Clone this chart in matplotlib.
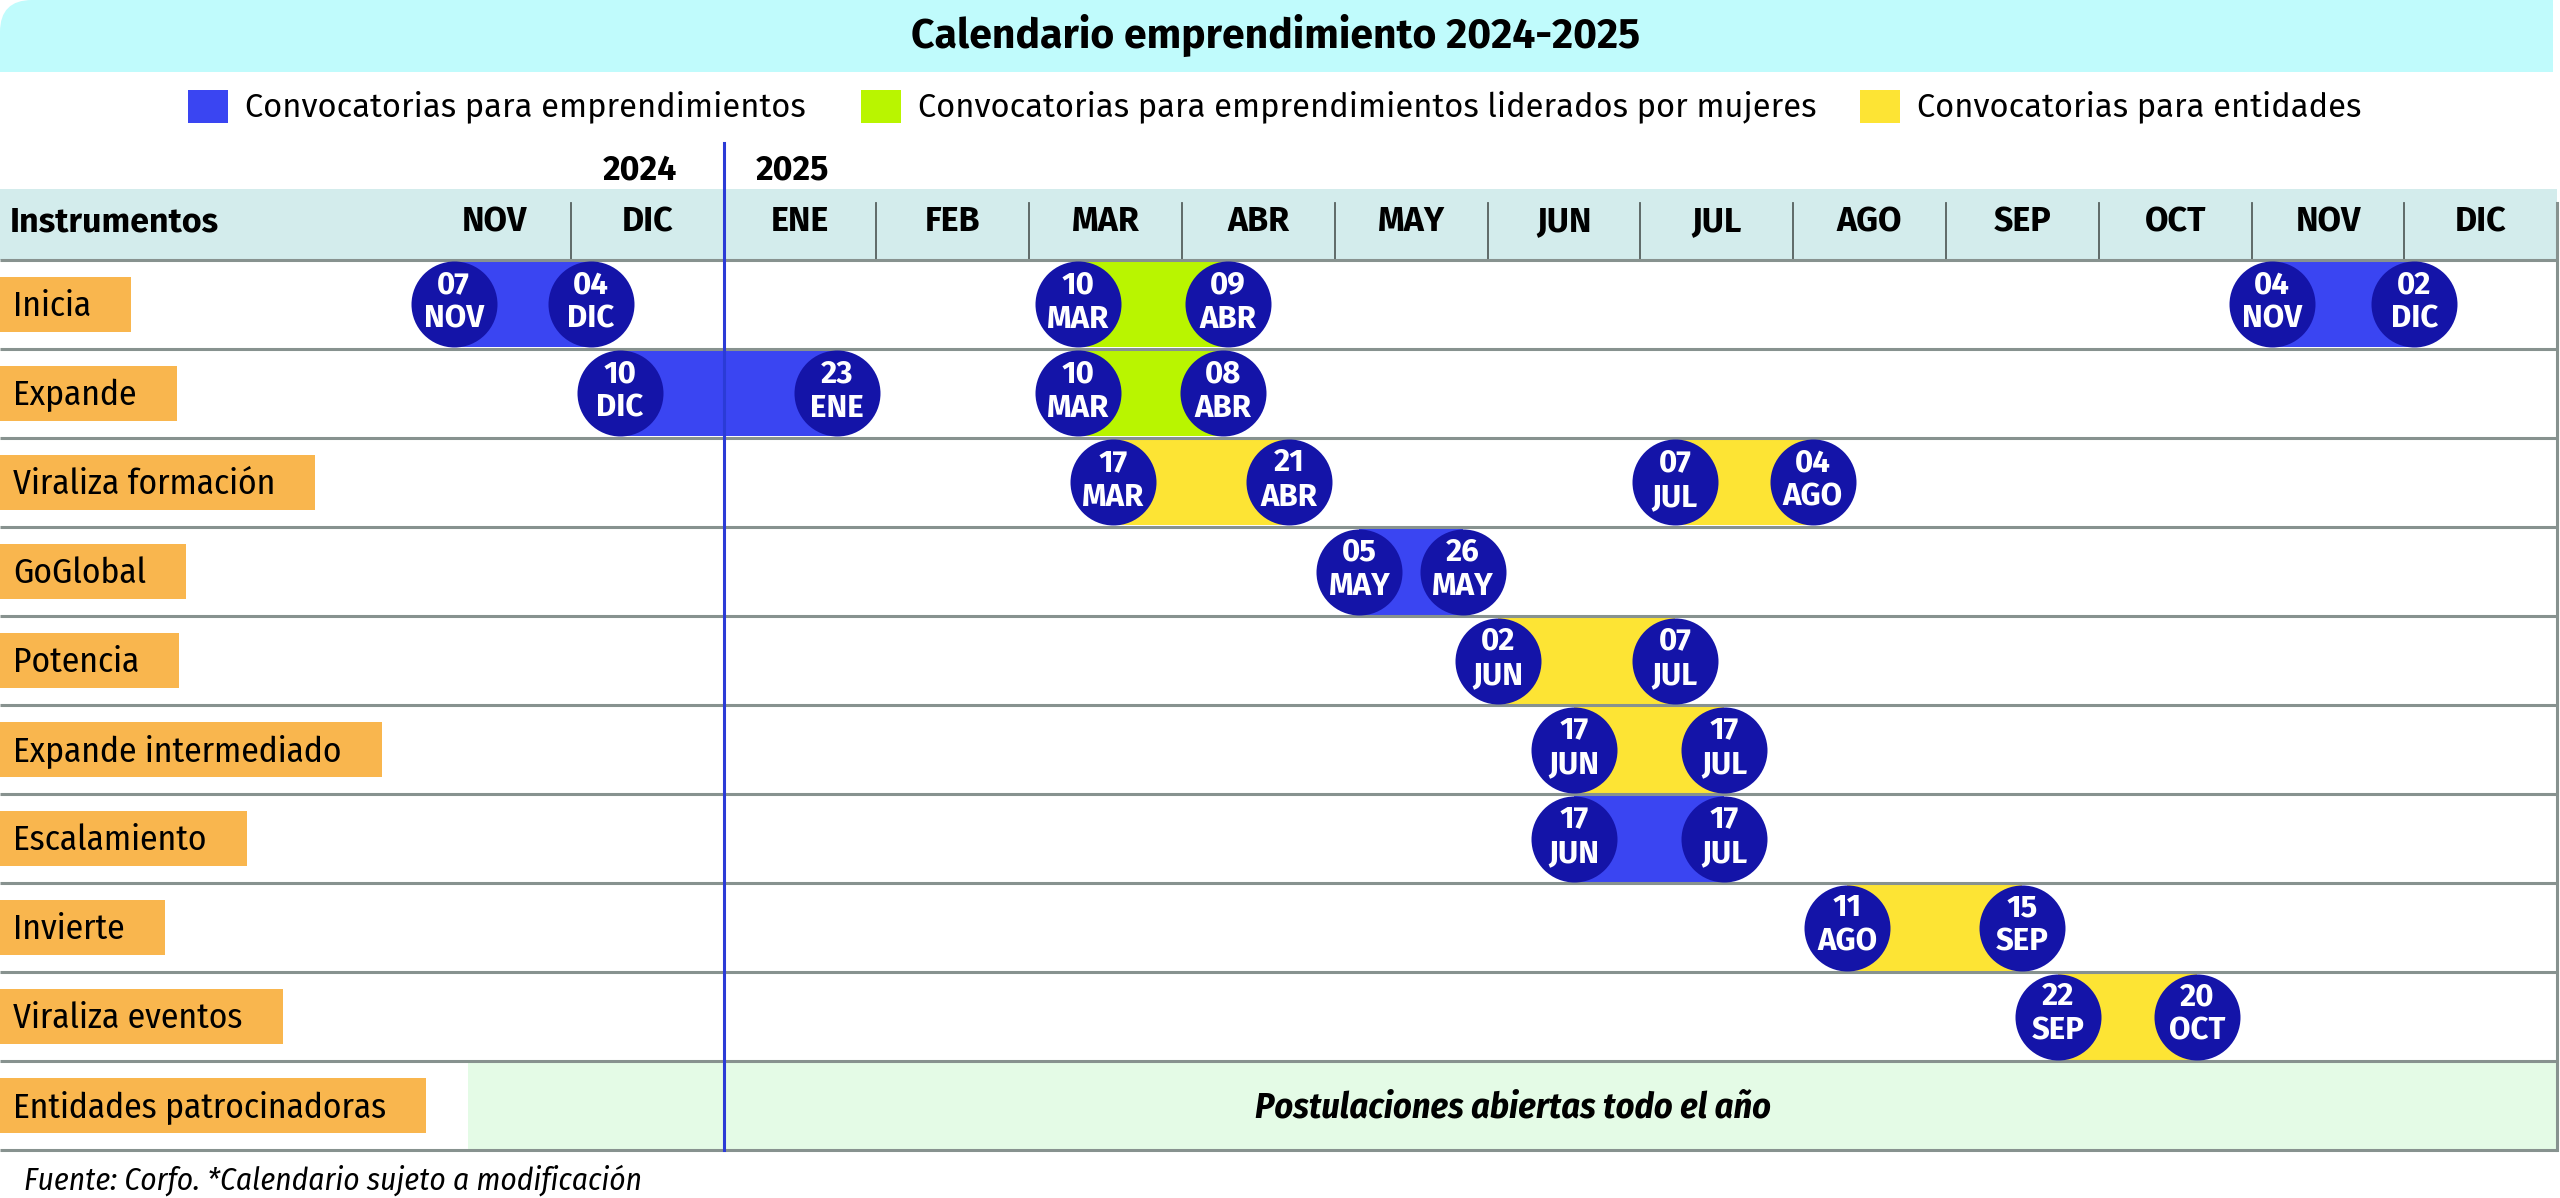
import calendar
import matplotlib
matplotlib.use("Agg")
import matplotlib.pyplot as plt
import matplotlib.transforms as mtransforms
from matplotlib.patches import Rectangle, FancyBboxPatch
import pandas as pd

# Columnas del calendario
MESES = ["NOV", "DIC", "ENE", "FEB", "MAR", "ABR", "MAY", "JUN", "JUL", "AGO", "SEP", "OCT", "NOV", "DIC"]
ANIOS = ["2024", "2025"]

INSTRUMENTOS = ["Inicia", "Expande", "Viraliza formación", "GoGlobal", "Potencia",
                "Expande intermediado", "Escalamiento", "Invierte", "Viraliza eventos",
                "Entidades patrocinadoras"]

# Convocatorias (fila = índice en INSTRUMENTOS)
CONV_FILA = [0, 0, 0, 1, 1, 2, 2, 3, 4, 5, 6, 7, 8]
CONV_INICIO = ["2024-11-07", "2025-03-10", "2025-11-04", "2024-12-10", "2025-03-10",
               "2025-03-17", "2025-07-07", "2025-05-05", "2025-06-02", "2025-06-17",
               "2025-06-17", "2025-08-11", "2025-09-22"]
CONV_FIN = ["2024-12-04", "2025-04-09", "2025-12-02", "2025-01-23", "2025-04-08",
            "2025-04-21", "2025-08-04", "2025-05-26", "2025-07-07", "2025-07-17",
            "2025-07-17", "2025-09-15", "2025-10-20"]
CONV_TIPO = ["emp", "muj", "emp", "emp", "muj", "ent", "ent", "emp", "ent", "ent",
             "emp", "ent", "ent"]

TIPOS = ["emp", "muj", "ent"]
TIPO_LABEL = ["Convocatorias para emprendimientos",
              "Convocatorias para emprendimientos liderados por mujeres",
              "Convocatorias para entidades"]
TIPO_COLOR = {"emp": "#3a45f2", "muj": "#b9f500", "ent": "#fde434"}

ABIERTA_FILA = 9
ABIERTA_TEXTO = "Postulaciones abiertas todo el año"

# Colores / estilo
CYAN = "#c0fbfc"
HEAD = "#d3ecec"
ORANGE = "#f9b64e"
NAVY = "#1414a8"
GRID = "#87928f"
LINEA_ANIO = "#2b3bd6"
VERDE_BANDA = "#e4fbe6"

W, H = 2560, 1198
X0, MW = 418, 152.8     # px: inicio de NOV 2024 y ancho de un mes
Y0, RH = 260, 89        # px: inicio de la primera fila y alto de fila

SANS = ["Fira Sans", "DejaVu Sans"]
COND = ["Fira Sans Condensed", "DejaVu Sans"]

MES_ABR = ["", "ENE", "FEB", "MAR", "ABR", "MAY", "JUN", "JUL", "AGO", "SEP", "OCT", "NOV", "DIC"]


def pos_mes(fecha):
    # posicion en meses desde el 1 de noviembre 2024
    d = pd.Timestamp(fecha)
    dias = calendar.monthrange(d.year, d.month)[1]
    return (d.year - 2024) * 12 + d.month - 11 + d.day / dias


fig = plt.figure(figsize=(W / 100, H / 100), dpi=100)
ax = fig.add_axes([0, 0, 1, 1])
ax.set_xlim(-X0 / MW, (W - X0) / MW)
ax.set_ylim((H - Y0) / RH, -Y0 / RH)
ax.axis("off")
renderer = fig.canvas.get_renderer()

# transformacion en pixeles desde arriba a la izquierda (para el marco)
PX = mtransforms.Affine2D().scale(1 / W, -1 / H).translate(0, 1) + fig.transFigure
# x en meses, y en pixeles
XM = mtransforms.blended_transform_factory(ax.transData, PX)
# x en pixeles, y en filas
YR = mtransforms.blended_transform_factory(PX, ax.transData)

# Título
fig.patches.append(FancyBboxPatch((0, 0), 2553, 72, boxstyle="round,pad=0,rounding_size=32",
                                  transform=PX, fc=CYAN, ec="none"))
fig.patches.append(Rectangle((0, 40), 2553, 32, transform=PX, fc=CYAN, ec="none"))
fig.patches.append(Rectangle((2500, 0), 53, 72, transform=PX, fc=CYAN, ec="none"))
fig.text(1276, 35, "Calendario emprendimiento 2024-2025", transform=PX, ha="center", va="center",
         fontsize=29.5, fontweight="bold", family=SANS)

# Leyenda
leg_x = [188, 861, 1860]
for x, tipo, lab in zip(leg_x, TIPOS, TIPO_LABEL):
    fig.patches.append(Rectangle((x, 90), 40, 33, transform=PX, fc=TIPO_COLOR[tipo], ec="none"))
    fig.text(x + 57, 107, lab, transform=PX, ha="left", va="center", fontsize=23.5, family=SANS)

# Cabecera
n_filas = len(INSTRUMENTOS)
ax.add_patch(Rectangle((0, 189), 2557, 71, transform=PX, fc=HEAD, ec="none"))
ax.text(10, 222, "Instrumentos", transform=PX, ha="left", va="center", fontsize=24.5,
        fontweight="bold", family=SANS)
for i, mes in enumerate(MESES):
    ax.text(i + 0.5, 222, mes, transform=XM, ha="center", va="center", fontsize=24.5,
            fontweight="bold", family=SANS)
    if i > 0 and i != 2:
        ax.plot([i, i], [203, 260], transform=XM, color="#55605e", lw=1.3)
ax.text(1.45, 170, ANIOS[0], transform=XM, ha="center", va="center", fontsize=24.5,
        fontweight="bold", family=SANS)
ax.text(2.45, 170, ANIOS[1], transform=XM, ha="center", va="center", fontsize=24.5,
        fontweight="bold", family=SANS)

# Banda "todo el año"
banda_x0 = 468
ax.add_patch(Rectangle((banda_x0, ABIERTA_FILA), 2557 - banda_x0, 1, transform=YR,
                       fc=VERDE_BANDA, ec="none", zorder=1))
ax.text(((banda_x0 + 2557) / 2 - X0) / MW, ABIERTA_FILA + 0.52, ABIERTA_TEXTO, ha="center",
        va="center", fontsize=26, fontweight="bold", style="italic", family=COND, zorder=5)

# Etiquetas de fila
for r, nombre in enumerate(INSTRUMENTOS):
    t = ax.text(13, r + 0.52, nombre, transform=YR, ha="left", va="center", fontsize=25.5,
                family=COND, zorder=6)
    bb = t.get_window_extent(renderer=renderer)
    ax.add_patch(Rectangle((0, r + 0.5 - 27.5 / RH), bb.x1 + 40, 55 / RH, transform=YR,
                           fc=ORANGE, ec="none", zorder=4))

# Líneas de fila
for r in range(n_filas + 1):
    ax.plot([0, 2557], [r, r], transform=YR, color=GRID, lw=2.2, zorder=3, solid_capstyle="butt")
ax.plot([2557, 2557], [203, Y0 + n_filas * RH], transform=PX, color=GRID, lw=2.2, zorder=3)

# Convocatorias
diam = 86
for fila, ini, fin, tipo in zip(CONV_FILA, CONV_INICIO, CONV_FIN, CONV_TIPO):
    x1, x2 = pos_mes(ini), pos_mes(fin)
    yc = fila + 0.5
    ax.add_patch(Rectangle((x1, yc - diam / 2 / RH), x2 - x1, diam / RH,
                           fc=TIPO_COLOR[tipo], ec="none", zorder=2))
    ax.scatter([x1, x2], [yc, yc], s=(diam * 0.72) ** 2, color=NAVY, lw=0, zorder=7)
    for x, f in ((x1, ini), (x2, fin)):
        d = pd.Timestamp(f)
        ax.text(x, yc - 0.22, f"{d.day:02d}", ha="center", va="center", color="white",
                fontsize=22.5, fontweight="bold", family=SANS, zorder=8)
        ax.text(x, yc + 0.17, MES_ABR[d.month], ha="center", va="center", color="white",
                fontsize=22.5, fontweight="bold", family=SANS, zorder=8)

# Línea de cambio de año
ax.plot([2, 2], [143, Y0 + n_filas * RH], transform=XM, color=LINEA_ANIO, lw=2.2, zorder=6)

# Fuente
fig.text(24, 1180, "Fuente: Corfo. *Calendario sujeto a modificación", transform=PX,
         ha="left", va="center", fontsize=22.5, style="italic", family=COND)

fig.savefig("out.png", dpi=100, facecolor="white")
